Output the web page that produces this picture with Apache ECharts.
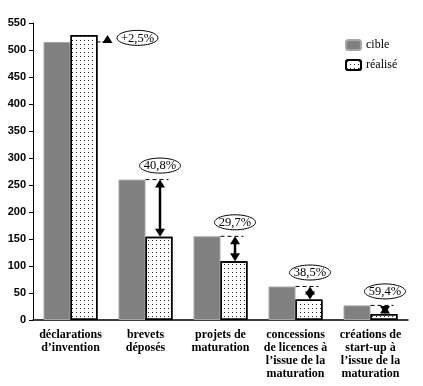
<!DOCTYPE html>
<html><head><meta charset="utf-8">
<script src="https://cdn.jsdelivr.net/npm/echarts@6/dist/echarts.min.js"></script>
<style>html,body{margin:0;padding:0;background:#fff}#c{width:423px;height:386px}</style>
</head><body><div id="c"></div>
<script>
var categories = ["déclarations\nd’invention", "brevets\ndéposés", "projets de\nmaturation", "concessions\nde licences à\nl’issue de la\nmaturation", "créations de\nstart-up à\nl’issue de la\nmaturation"];
var cible = [515, 260, 155, 62, 27];
var realise = [528, 154, 109, 38, 11];
var ecarts = ["+2,5%", "40,8%", "29,7%", "38,5%", "59,4%"];
var yTicks = {min: 0, max: 550, interval: 50};

var BARW = 0.36;
var serif = "'Liberation Serif', 'DejaVu Serif', serif";

function ellipsePts(cx, cy, rx, ry) {
  var p = [];
  for (var k = 0; k < 48; k++) {
    var a = k / 48 * Math.PI * 2;
    p.push([cx + rx * Math.cos(a), cy + ry * Math.sin(a)]);
  }
  return p;
}

function renderAnno(params, api) {
  var i = params.dataIndex;
  var c = api.value(1), r = api.value(2);
  var band = api.size([1, 0])[0];
  var pC = api.coord([i, c]);
  var pR = api.coord([i, r]);
  var bw = band * BARW;
  var x0 = pC[0];
  var rx = x0 + bw / 2;
  var rRight = x0 + bw;
  var yC = pC[1], yR = pR[1];
  var ch = [];
  var lab;
  if (r >= c) {
    ch.push({type: 'line', shape: {x1: rRight, y1: yC, x2: rRight + 7, y2: yC},
      style: {stroke: '#000', lineWidth: 1, lineDash: [3, 2]}});
    var ax = rRight + 10;
    ch.push({type: 'polygon', shape: {points: [[ax, yR], [ax - 5, yC + 1], [ax + 5, yC + 1]]},
      style: {fill: '#000'}});
    lab = [rRight + 40, yR + 3];
  } else {
    ch.push({type: 'line', shape: {x1: x0, y1: yC, x2: rRight - 4, y2: yC},
      style: {stroke: '#000', lineWidth: 1, lineDash: [4, 3]}});
    var ax2 = rx + 1;
    ch.push({type: 'line', shape: {x1: ax2, y1: yC + 4, x2: ax2, y2: yR - 4},
      style: {stroke: '#000', lineWidth: 2.5}});
    ch.push({type: 'polygon', shape: {points: [[ax2, yC], [ax2 - 5, yC + 8], [ax2 + 5, yC + 8]]},
      style: {fill: '#000'}});
    ch.push({type: 'polygon', shape: {points: [[ax2, yR], [ax2 - 5, yR - 8], [ax2 + 5, yR - 8]]},
      style: {fill: '#000'}});
    lab = [ax2, yC - 14];
  }
  ch.push({type: 'polygon', shape: {points: ellipsePts(lab[0], lab[1], 20.5, 7.5)},
    style: {fill: '#fff', stroke: '#000', lineWidth: 1}});
  ch.push({type: 'text', x: lab[0], y: lab[1] + 0.5,
    style: {text: ecarts[i], fill: '#000', font: '12.5px ' + serif, align: 'center', verticalAlign: 'middle'}});
  return {type: 'group', children: ch};
}

var chart = echarts.init(document.getElementById('c'), null, {renderer: 'canvas'});
chart.setOption({
  animation: false,
  backgroundColor: '#fff',
  grid: {left: 33, right: 15, top: 23, bottom: 66},
  legend: {
    data: ['cible', 'réalisé'], orient: 'vertical', left: 340, top: 34,
    itemWidth: 15, itemHeight: 10, itemGap: 8,
    textStyle: {fontFamily: serif, fontSize: 12, color: '#000'}
  },
  xAxis: {
    type: 'category', data: categories,
    axisLine: {lineStyle: {color: '#000', width: 1.5}},
    axisTick: {show: false},
    axisLabel: {interval: 0, color: '#000', fontFamily: serif, fontWeight: 'bold', fontSize: 12, lineHeight: 13, margin: 8}
  },
  yAxis: {
    type: 'value', min: yTicks.min, max: yTicks.max, interval: yTicks.interval,
    splitLine: {show: false},
    axisLine: {show: true, lineStyle: {color: '#000', width: 1}},
    axisTick: {show: true, length: 4, lineStyle: {color: '#000'}},
    axisLabel: {color: '#000', fontFamily: "'Liberation Sans', Arial, sans-serif", fontWeight: 'bold', fontSize: 11, margin: 7}
  },
  series: [
    {name: 'cible', type: 'bar', data: cible, barWidth: (BARW * 100) + '%', barGap: '0%',
      itemStyle: {color: '#808080', borderColor: '#a6a6a6', borderWidth: 1}},
    {name: 'réalisé', type: 'bar', data: realise, barWidth: (BARW * 100) + '%',
      itemStyle: {color: '#fff', borderColor: '#000', borderWidth: 1.5,
        decal: {symbol: 'rect', symbolSize: 1, dashArrayX: [1, 3], dashArrayY: [1, 3], color: '#222', rotation: 0}}},
    {type: 'custom', coordinateSystem: 'cartesian2d', clip: false, z: 10, silent: true,
      encode: {x: 0, y: 1},
      data: categories.map(function (c, i) { return [i, cible[i], realise[i]]; }),
      renderItem: renderAnno}
  ]
});
</script></body></html>
